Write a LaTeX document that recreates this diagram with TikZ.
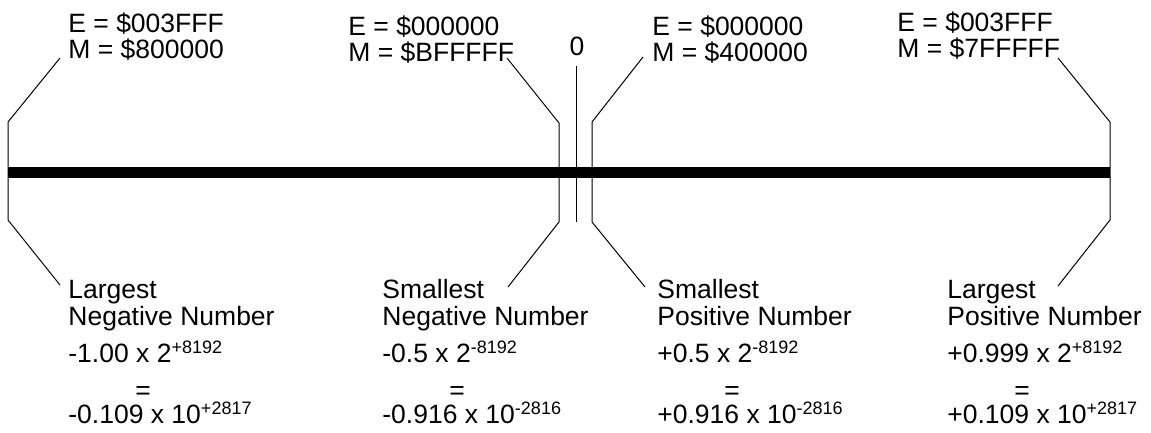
\documentclass[tikz,border=0pt]{standalone}
\usepackage{fontspec}
\setmainfont{Liberation Sans}
\newcommand{\pw}[1]{\raisebox{4.5pt}{\fontsize{9}{9}\selectfont #1}}

\begin{document}
\begin{tikzpicture}[x=0.5pt,y=-0.5pt,every node/.style={align=left,inner sep=0pt,anchor=base west,font=\fontsize{13.25}{13.25}\selectfont},lead/.style={line width=0.5pt},eqsign/.style={text depth=0pt},dec/.style={text height=9.5pt}]
\useasboundingbox (0,0) rectangle (1151,433);
% the number line
\coordinate (lo) at (8,172);
\coordinate (hi) at (1110,172);
\draw[line width=5.5pt] (lo) -- (hi);

% largest negative number
\node (negmaxbits) at (68,59) {E = \$003FFF\\M = \$800000};
\node (negmaxname) at (68,325) {Largest\\Negative Number};
\node (negmaxpow) at (68,362) {-1.00 x 2\pw{+8192}};
\node[eqsign] (negmaxeq) at (135,399) {=};
\node[dec] (negmaxdec) at (68,423) {-0.109 x 10\pw{+2817}};
\coordinate (negmaxup) at (60,58);
\coordinate (negmaxtop) at (8,122);
\coordinate (negmaxbot) at (8,220);
\coordinate (negmaxdown) at (60,285);
\draw[lead] (negmaxup) -- (negmaxtop) -- (negmaxbot) -- (negmaxdown);

% smallest negative number
\node (negminbits) at (348,62) {E = \$000000\\M = \$BFFFFF};
\node (negminname) at (382,325) {Smallest\\Negative Number};
\node (negminpow) at (382,362) {-0.5 x 2\pw{-8192}};
\node[eqsign] (negmineq) at (449,399) {=};
\node[dec] (negmindec) at (382,423) {-0.916 x 10\pw{-2816}};
\coordinate (negminup) at (507,58);
\coordinate (negmintop) at (559,123);
\coordinate (negminbot) at (559,222);
\coordinate (negmindown) at (508,287);
\draw[lead] (negminup) -- (negmintop) -- (negminbot) -- (negmindown);

% zero
\node[anchor=base] (zero) at (577,56) {0};
\coordinate (zerotop) at (576,66);
\coordinate (zerobot) at (576,222);
\draw[lead] (zerotop) -- (zerobot);

% smallest positive number
\node (posminbits) at (652,62) {E = \$000000\\M = \$400000};
\node (posminname) at (657,325) {Smallest\\Positive Number};
\node (posminpow) at (657,362) {+0.5 x 2\pw{-8192}};
\node[eqsign] (posmineq) at (724,399) {=};
\node[dec] (posmindec) at (657,423) {+0.916 x 10\pw{-2816}};
\coordinate (posminup) at (643,57);
\coordinate (posmintop) at (592,122);
\coordinate (posminbot) at (592,222);
\coordinate (posmindown) at (645,287);
\draw[lead] (posminup) -- (posmintop) -- (posminbot) -- (posmindown);

% largest positive number
\node (posmaxbits) at (897,58) {E = \$003FFF\\M = \$7FFFFF};
\node (posmaxname) at (947,325) {Largest\\Positive Number};
\node (posmaxpow) at (947,362) {+0.999 x 2\pw{+8192}};
\node[eqsign] (posmaxeq) at (1014,399) {=};
\node[dec] (posmaxdec) at (947,423) {+0.109 x 10\pw{+2817}};
\coordinate (posmaxup) at (1058,58);
\coordinate (posmaxtop) at (1110,122);
\coordinate (posmaxbot) at (1110,220);
\coordinate (posmaxdown) at (1058,286);
\draw[lead] (posmaxup) -- (posmaxtop) -- (posmaxbot) -- (posmaxdown);
\end{tikzpicture}
\end{document}
